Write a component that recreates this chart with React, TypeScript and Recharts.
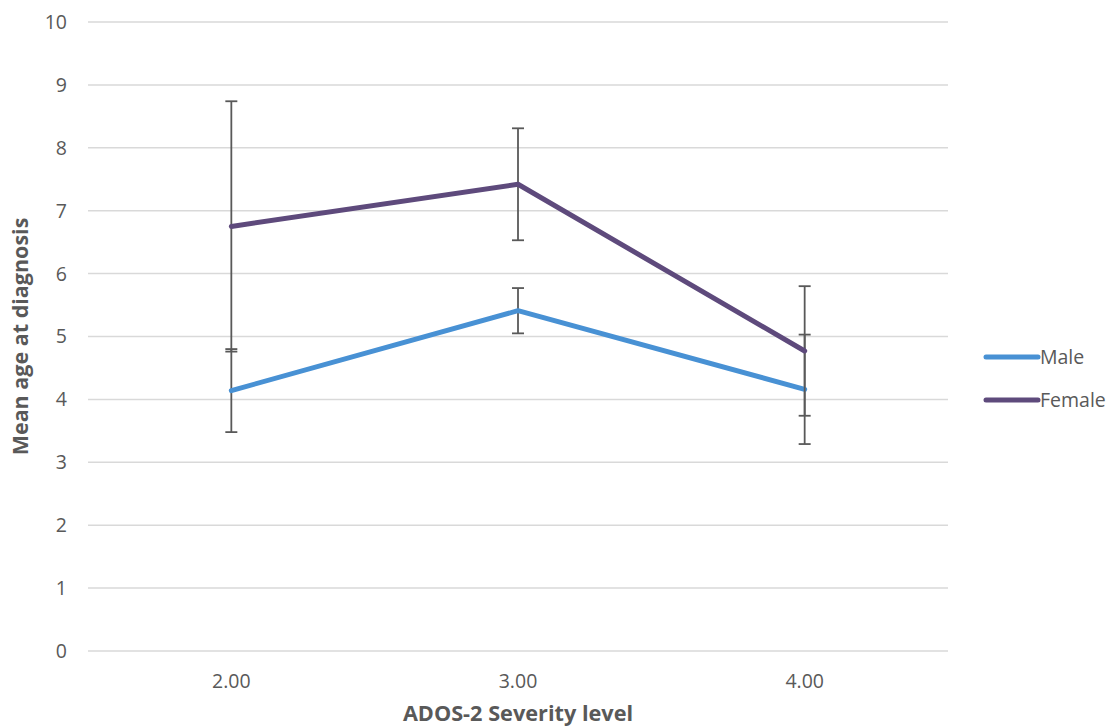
import React from 'react';
import {
  LineChart,
  Line,
  XAxis,
  YAxis,
  CartesianGrid,
  Legend,
  ErrorBar,
} from 'recharts';

const categories = ['2.00', '3.00', '4.00'];
const maleValues = [4.14, 5.41, 4.16];
const femaleValues = [6.75, 7.42, 4.77];
const maleErrors = [0.66, 0.36, 0.87];
const femaleErrors = [1.99, 0.89, 1.03];
const yTicks = [0, 1, 2, 3, 4, 5, 6, 7, 8, 9, 10];
const seriesOrder = ['Male', 'Female'];

const MALE_COLOR = '#4891D4';
const FEMALE_COLOR = '#5E4A7C';
const TEXT_COLOR = '#595959';
const FONT = '"Open Sans", Lato, sans-serif';

const data = categories.map((c, i) => ({
  category: c,
  Male: maleValues[i],
  Female: femaleValues[i],
  maleErr: maleErrors[i],
  femaleErr: femaleErrors[i],
}));

const renderLegend = (props: any) => {
  const payload = [...(props.payload || [])].sort(
    (a: any, b: any) => seriesOrder.indexOf(a.value) - seriesOrder.indexOf(b.value)
  );
  return (
    <div style={{ fontFamily: FONT }}>
      {payload.map((entry: any) => (
        <div
          key={entry.value}
          style={{ display: 'flex', alignItems: 'center', height: 43 }}
        >
          <svg width={58} height={10} style={{ display: 'block' }}>
            <line
              x1={3}
              y1={5}
              x2={55}
              y2={5}
              stroke={entry.color}
              strokeWidth={5}
              strokeLinecap="round"
            />
          </svg>
          <span style={{ color: TEXT_COLOR, fontSize: 19.5, marginLeft: -1 }}>
            {entry.value}
          </span>
        </div>
      ))}
    </div>
  );
};

export default function App() {
  return (
    <div style={{ position: 'absolute', left: 0, top: 0, background: '#fff' }}>
      <LineChart
        width={1110}
        height={727}
        data={data}
        margin={{ top: 22, right: 162, left: 0, bottom: 0 }}
        style={{ fontFamily: FONT }}
      >
        <CartesianGrid
          horizontal
          vertical={false}
          stroke="#d9d9d9"
          strokeWidth={1.5}
        />
        <XAxis
          dataKey="category"
          scale="band"
          axisLine={false}
          tickLine={false}
          height={76}
          tickMargin={17}
          tick={{ fill: TEXT_COLOR, fontSize: 19.5 }}
          label={{
            value: 'ADOS-2 Severity level',
            position: 'insideBottom',
            offset: 6,
            style: { fill: TEXT_COLOR, fontSize: 21.7, fontWeight: 'bold' },
          }}
        />
        <YAxis
          domain={[0, 10]}
          ticks={yTicks}
          interval={0}
          axisLine={false}
          tickLine={false}
          width={88}
          tickMargin={15}
          tick={{ fill: TEXT_COLOR, fontSize: 19.5 }}
          label={{
            value: 'Mean age at diagnosis',
            angle: -90,
            position: 'insideLeft',
            offset: 20,
            style: {
              fill: TEXT_COLOR,
              fontSize: 21.5,
              fontWeight: 'bold',
              textAnchor: 'middle',
            },
          }}
        />
        <Legend
          layout="vertical"
          align="center"
          verticalAlign="middle"
          content={renderLegend}
          wrapperStyle={{ left: 983, top: 335, width: 127 }}
        />
        <Line
          type="linear"
          dataKey="Male"
          stroke={MALE_COLOR}
          strokeWidth={5}
          strokeLinecap="round"
          strokeLinejoin="round"
          dot={false}
          activeDot={false}
          isAnimationActive={false}
        >
          <ErrorBar dataKey="maleErr" width={6} stroke="#595959" strokeWidth={1.8} />
        </Line>
        <Line
          type="linear"
          dataKey="Female"
          stroke={FEMALE_COLOR}
          strokeWidth={5}
          strokeLinecap="round"
          strokeLinejoin="round"
          dot={false}
          activeDot={false}
          isAnimationActive={false}
        >
          <ErrorBar dataKey="femaleErr" width={6} stroke="#595959" strokeWidth={1.8} />
        </Line>
      </LineChart>
    </div>
  );
}
